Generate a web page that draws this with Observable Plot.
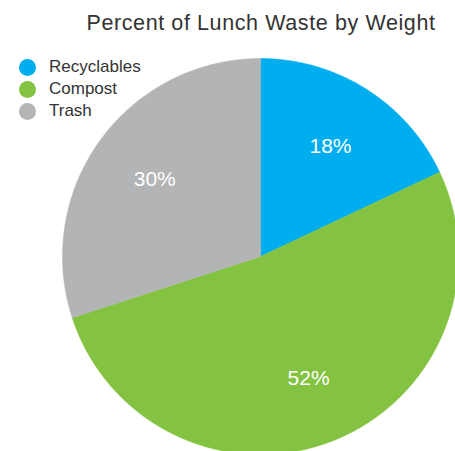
<!DOCTYPE html>
<html>
<head>
<meta charset="utf-8">
<script src="https://cdn.jsdelivr.net/npm/d3@7"></script>
<script src="https://cdn.jsdelivr.net/npm/@observablehq/plot@0.6"></script>
<style>
  html, body { margin: 0; padding: 0; background: #fff; overflow: hidden; }
  #wrap { position: relative; width: 455px; height: 451px; overflow: hidden; font-family: "Liberation Sans", Arial, Helvetica, sans-serif; }
  #chart { position: absolute; left: 0; top: 0; }
  #title { position: absolute; left: 0; width: 522px; top: 11px; text-align: center; font-size: 21.5px; letter-spacing: 0.6px; color: #333; }
  #legend { position: absolute; left: 19px; top: 56px; }
  .item { display: flex; align-items: center; height: 22px; font-size: 17px; color: #333; }
  .sw { width: 17px; height: 17px; border-radius: 50%; margin-right: 13px; }
</style>
</head>
<body>
<div id="wrap">
  <div id="chart"></div>
  <div id="title">Percent of Lunch Waste by Weight</div>
  <div id="legend"></div>
</div>
<script>
const categories = ["Recyclables", "Compost", "Trash"];
const values = [18, 52, 30];
const labels = ["18%", "52%", "30%"];
const colors = ["#00AEEF", "#84C341", "#B3B4B6"];

const total = d3.sum(values);
let acc = 0;
const slices = categories.map((c, i) => {
  const a0 = acc / total * 2 * Math.PI;
  acc += values[i];
  const a1 = acc / total * 2 * Math.PI;
  return {cat: c, a0, a1, mid: (a0 + a1) / 2, label: labels[i]};
});

const pts = [];
for (const s of slices) {
  pts.push({cat: s.cat, x: 0, y: 0});
  const n = Math.max(2, Math.ceil((s.a1 - s.a0) / 0.01));
  for (let k = 0; k <= n; k++) {
    const a = s.a0 + (s.a1 - s.a0) * k / n;
    pts.push({cat: s.cat, x: Math.sin(a), y: Math.cos(a)});
  }
  pts.push({cat: s.cat, x: 0, y: 0});
}

const lr = 0.66;
const plot = Plot.plot({
  width: 455,
  height: 451,
  margin: 0,
  x: {domain: [-1, 1], range: [62, 458], axis: null},
  y: {domain: [-1, 1], range: [454, 58], axis: null},
  color: {domain: categories, range: colors},
  marks: [
    Plot.line(pts, {x: "x", y: "y", z: "cat", fill: "cat", stroke: "cat", strokeWidth: 0.5}),
    Plot.text(slices, {
      x: d => lr * Math.sin(d.mid),
      y: d => lr * Math.cos(d.mid),
      text: "label",
      fill: "white",
      fontSize: 21,
      fontFamily: "Liberation Sans, Arial, sans-serif"
    })
  ]
});
document.getElementById("chart").appendChild(plot);

const legend = document.getElementById("legend");
categories.forEach((c, i) => {
  const it = document.createElement("div");
  it.className = "item";
  it.innerHTML = `<span class="sw" style="background:${colors[i]}"></span><span>${c}</span>`;
  legend.appendChild(it);
});
</script>
</body>
</html>
